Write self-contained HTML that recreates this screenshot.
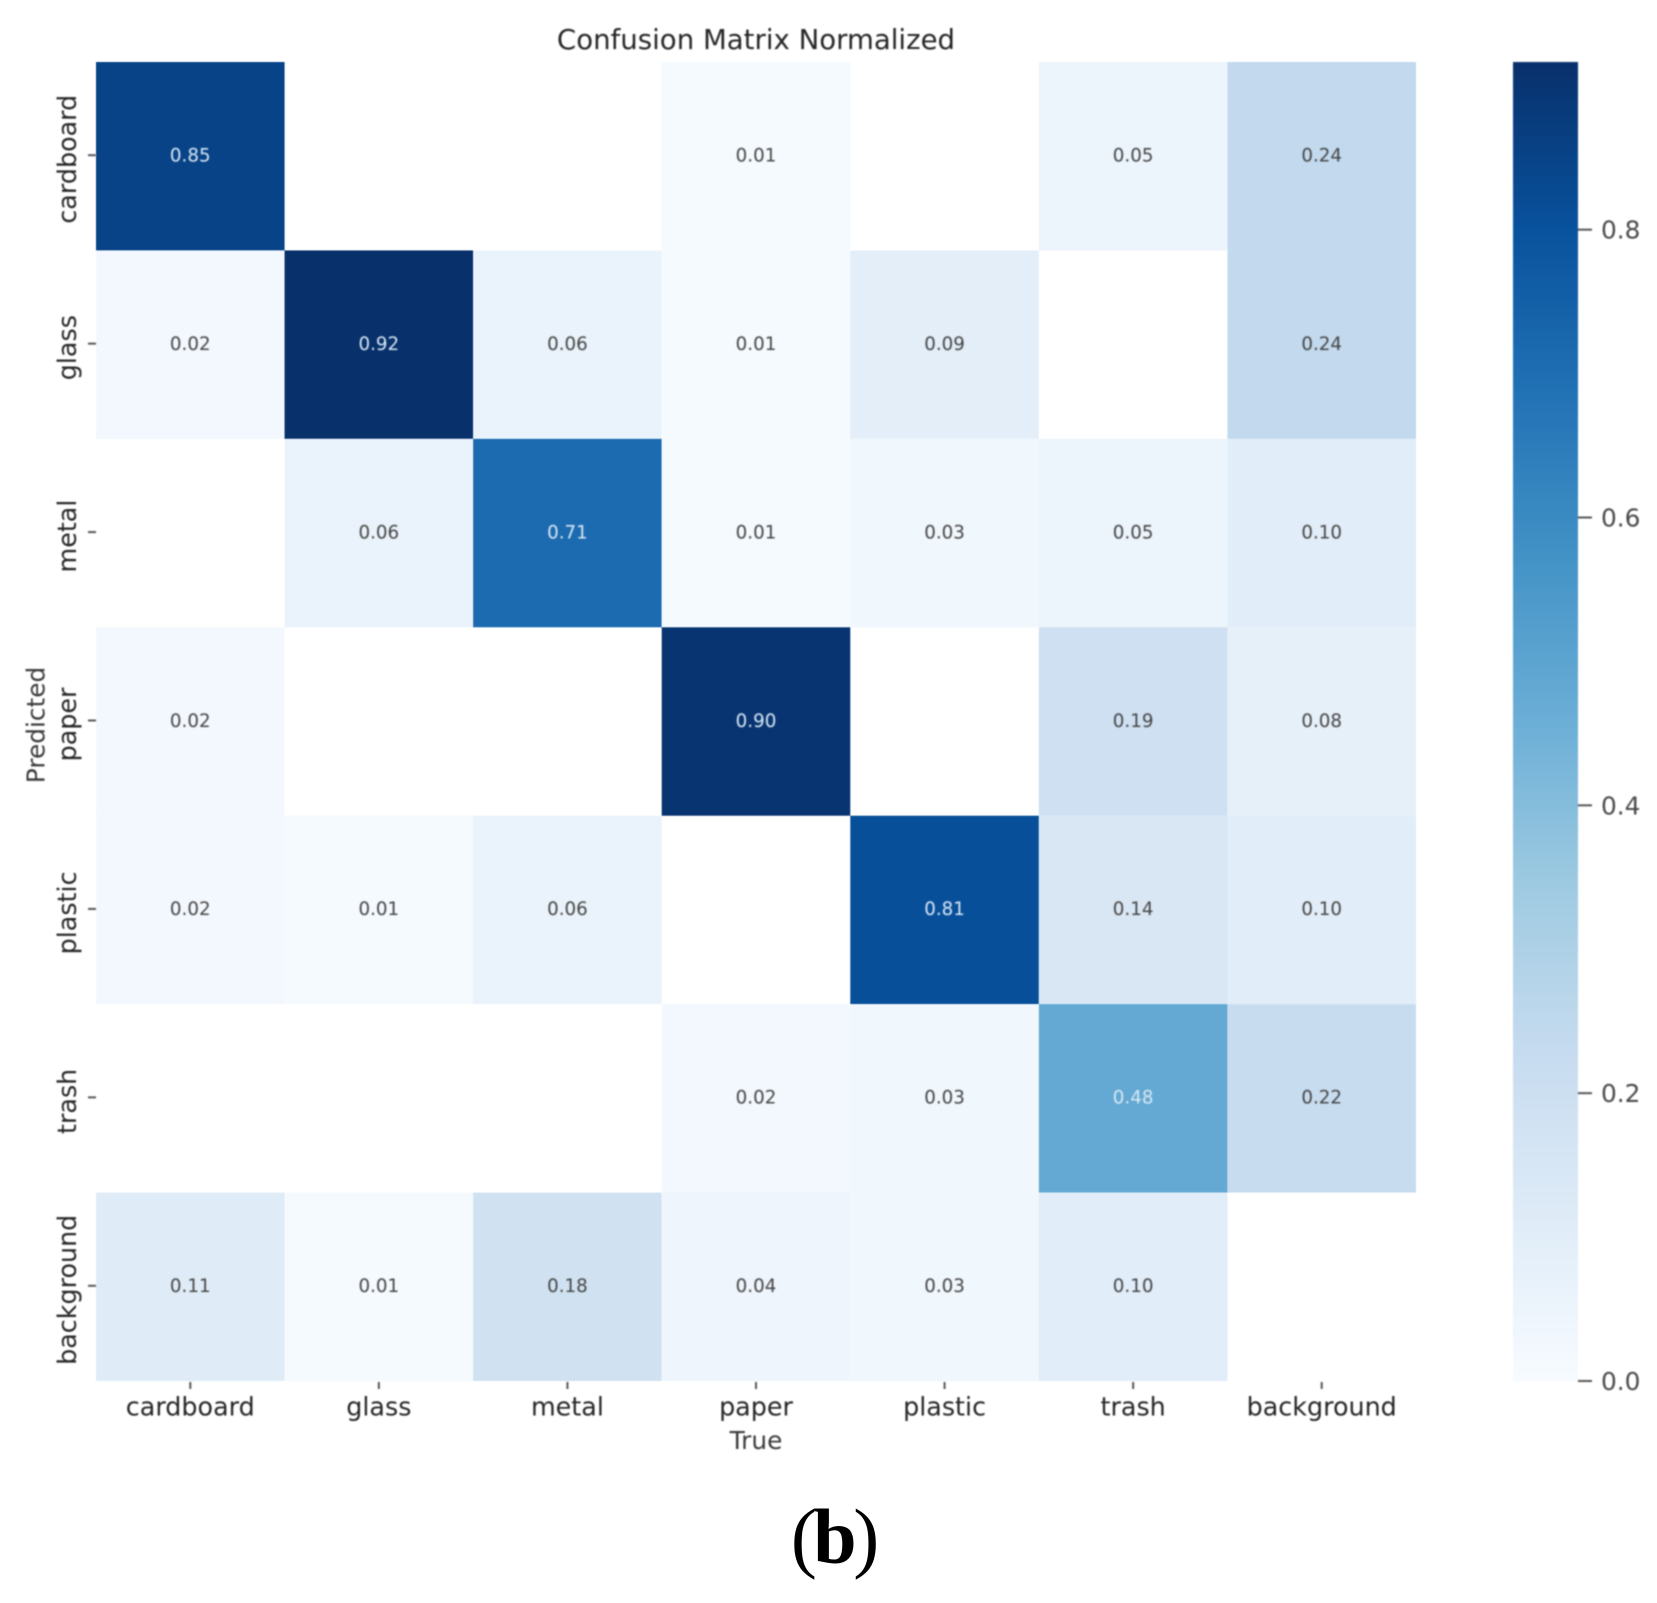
<!DOCTYPE html>
<html lang="en">
<head>
<meta charset="utf-8">
<title>Confusion Matrix Normalized</title>
<style>
html,body{margin:0;padding:0;background:#fff;}
svg{display:block;}
text{font-family:"DejaVu Sans",sans-serif;}
</style>
</head>
<body>
<svg id="chart" width="1657" height="1603" viewBox="0 0 1657 1603" xmlns="http://www.w3.org/2000/svg">
  <defs>
    <filter id="soft" x="-5%" y="-5%" width="110%" height="110%" color-interpolation-filters="sRGB"><feGaussianBlur stdDeviation="0.75"/></filter>
    <filter id="softer" x="-1%" y="-1%" width="102%" height="102%" color-interpolation-filters="sRGB"><feGaussianBlur stdDeviation="0.6"/></filter>
    <linearGradient id="cbar-gradient" x1="0" y1="1" x2="0" y2="0"></linearGradient>
  </defs>
  <rect x="0" y="0" width="1657" height="1603" fill="#ffffff"/>
  <g id="cells" filter="url(#softer)"></g>
  <g id="annotations" filter="url(#soft)"></g>
  <g id="x-axis" filter="url(#soft)"></g>
  <g id="y-axis" filter="url(#soft)"></g>
  <g id="colorbar" filter="url(#soft)"></g>
  <g filter="url(#soft)">
    <text x="756" y="49" text-anchor="middle" font-size="27.6" fill="#262626">Confusion Matrix Normalized</text>
    <text x="756" y="1449" text-anchor="middle" font-size="24.8" fill="#3a3a3a">True</text>
    <text transform="translate(44.5 725) rotate(-90)" text-anchor="middle" font-size="24.8" fill="#3a3a3a">Predicted</text>
  </g>
  <text x="835" y="1563" text-anchor="middle" font-size="78" fill="#000000" style="font-family:'Liberation Serif',serif">(<tspan font-weight="bold" dx="-3.5">b</tspan><tspan dx="-3.5">)</tspan></text>
</svg>
<script>
const categories = ["cardboard", "glass", "metal", "paper", "plastic", "trash", "background"];
const row_cardboard = [0.85, null, null, 0.01, null, 0.05, 0.24];
const row_glass = [0.02, 0.92, 0.06, 0.01, 0.09, null, 0.24];
const row_metal = [null, 0.06, 0.71, 0.01, 0.03, 0.05, 0.10];
const row_paper = [0.02, null, null, 0.90, null, 0.19, 0.08];
const row_plastic = [0.02, 0.01, 0.06, null, 0.81, 0.14, 0.10];
const row_trash = [null, null, null, 0.02, 0.03, 0.48, 0.22];
const row_background = [0.11, 0.01, 0.18, 0.04, 0.03, 0.10, null];
const matrix = [row_cardboard, row_glass, row_metal, row_paper, row_plastic, row_trash, row_background];
const colorbarTicks = [0.0, 0.2, 0.4, 0.6, 0.8];
const colorMax = 0.9165;
const blues = ["#f7fbff", "#deebf7", "#c6dbef", "#9ecae1", "#6baed6", "#4292c6", "#2171b5", "#08519c", "#08306b"];

const NS = "http://www.w3.org/2000/svg";
const plot = { left: 96, right: 1416, top: 62, bottom: 1381 };
const bar = { left: 1513, right: 1578, top: 62, bottom: 1381 };

function xBand(i) { return plot.left + i * (plot.right - plot.left) / categories.length; }
function yBand(i) { return plot.top + i * (plot.bottom - plot.top) / categories.length; }
function yBar(v) { return bar.bottom - (v / colorMax) * (bar.bottom - bar.top); }

function hexToRgb(h) {
  return [parseInt(h.slice(1, 3), 16), parseInt(h.slice(3, 5), 16), parseInt(h.slice(5, 7), 16)];
}
function colorAt(v) {
  const t = Math.max(0, Math.min(1, v / colorMax)) * (blues.length - 1);
  const i = Math.min(blues.length - 2, Math.floor(t));
  const f = t - i;
  const a = hexToRgb(blues[i]);
  const b = hexToRgb(blues[i + 1]);
  return "rgb(" + a.map(function (c, k) { return Math.round(c + (b[k] - c) * f); }).join(",") + ")";
}
function make(tag, attrs, parent, content) {
  const el = document.createElementNS(NS, tag);
  Object.keys(attrs).forEach(function (k) { el.setAttribute(k, attrs[k]); });
  if (content !== undefined) el.textContent = content;
  parent.appendChild(el);
  return el;
}

const cellsG = document.getElementById("cells");
const annG = document.getElementById("annotations");
const xG = document.getElementById("x-axis");
const yG = document.getElementById("y-axis");
const barG = document.getElementById("colorbar");

matrix.forEach(function (row, r) {
  row.forEach(function (value, c) {
    if (value === null) return;
    const x0 = xBand(c), x1 = xBand(c + 1), y0 = yBand(r), y1 = yBand(r + 1);
    const cell = make("rect", { x: x0, y: y0, width: x1 - x0, height: y1 - y0, fill: colorAt(value) }, cellsG);
    
    
    const label = make("text", {
      x: (x0 + x1) / 2, y: (y0 + y1) / 2 + 5.3, "text-anchor": "middle", "font-size": 18.3,
      fill: value / colorMax > 0.5 ? "#d9e8f5" : "#454545"
    }, annG, value.toFixed(2));
    
    
  });
});

categories.forEach(function (name, i) {
  const cx = (xBand(i) + xBand(i + 1)) / 2;
  const cy = (yBand(i) + yBand(i + 1)) / 2;

  const xTick = make("line", { x1: cx, x2: cx, y1: 1382, y2: 1389, stroke: "#555", "stroke-width": 2 }, xG);
  
  
  const xLabel = make("text", { x: cx, y: 1415.7, "text-anchor": "middle", "font-size": 25.4, fill: "#262626" }, xG, name);
  
  

  const yTick = make("line", { x1: 88, x2: 96, y1: cy - 1, y2: cy - 1, stroke: "#555", "stroke-width": 2 }, yG);
  
  
  const yLabel = make("text", {
    transform: "translate(76 " + (cy + 3) + ") rotate(-90)", "text-anchor": "middle", "font-size": 25.4, fill: "#262626"
  }, yG, name);
  
  
});

const gradient = document.getElementById("cbar-gradient");
blues.forEach(function (hex, i) {
  make("stop", { offset: i / (blues.length - 1), "stop-color": hex }, gradient);
});
const barRect = make("rect", {
  x: bar.left, y: bar.top, width: bar.right - bar.left, height: bar.bottom - bar.top, fill: "url(#cbar-gradient)"
}, barG);



colorbarTicks.forEach(function (v) {
  const y = yBar(v);
  const tick = make("line", { x1: bar.right, x2: bar.right + 14, y1: y, y2: y, stroke: "#555", "stroke-width": 2 }, barG);
  
  
  const label = make("text", { x: bar.right + 23, y: y + 9, "font-size": 24.8, fill: "#4a4a4a" }, barG, v.toFixed(1));
  
  
});
</script>
</body>
</html>
